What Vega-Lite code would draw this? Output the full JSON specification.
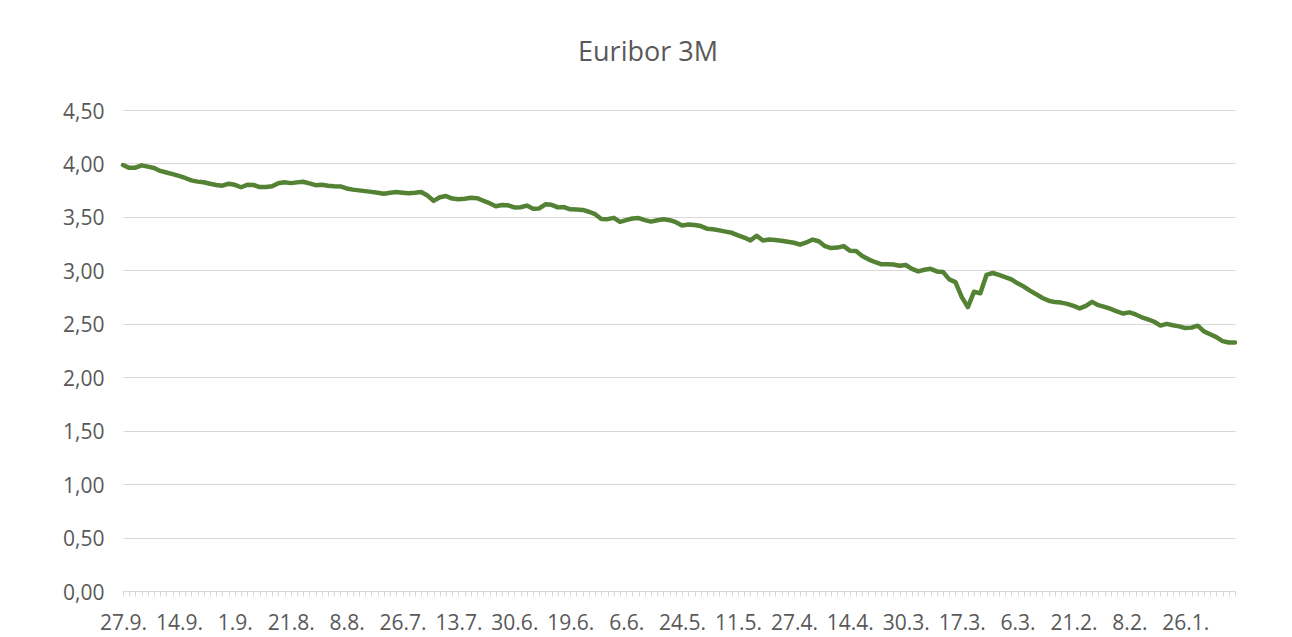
{
  "$schema": "https://vega.github.io/schema/vega-lite/v6.json",
  "width": 1112,
  "height": 481,
  "autosize": {"type": "none"},
  "padding": {"left": 123, "top": 110, "right": 57, "bottom": 46},
  "background": "white",
  "title": {"text": "Euribor 3M", "font": "Open Sans", "fontSize": 27, "fontWeight": "normal", "color": "#595959", "anchor": "middle", "dx": -31, "offset": 34},
  "data": {"values": [
    {"date": "27.9.", "value": 3.985}, {"date": "26.9.", "value": 3.959}, {"date": "25.9.", "value": 3.960}, {"date": "22.9.", "value": 3.982}, {"date": "21.9.", "value": 3.970}, {"date": "20.9.", "value": 3.957}, {"date": "19.9.", "value": 3.930}, {"date": "18.9.", "value": 3.915}, {"date": "15.9.", "value": 3.900}, {"date": "14.9.", "value": 3.883},
    {"date": "13.9.", "value": 3.864}, {"date": "12.9.", "value": 3.842}, {"date": "11.9.", "value": 3.830}, {"date": "8.9.", "value": 3.824}, {"date": "7.9.", "value": 3.810}, {"date": "6.9.", "value": 3.799}, {"date": "5.9.", "value": 3.792}, {"date": "4.9.", "value": 3.810}, {"date": "1.9.", "value": 3.800}, {"date": "31.8.", "value": 3.777},
    {"date": "30.8.", "value": 3.800}, {"date": "29.8.", "value": 3.799}, {"date": "28.8.", "value": 3.779}, {"date": "25.8.", "value": 3.779}, {"date": "24.8.", "value": 3.787}, {"date": "23.8.", "value": 3.815}, {"date": "22.8.", "value": 3.824}, {"date": "21.8.", "value": 3.816}, {"date": "18.8.", "value": 3.823}, {"date": "17.8.", "value": 3.829},
    {"date": "16.8.", "value": 3.813}, {"date": "15.8.", "value": 3.797}, {"date": "14.8.", "value": 3.800}, {"date": "11.8.", "value": 3.792}, {"date": "10.8.", "value": 3.786}, {"date": "9.8.", "value": 3.785}, {"date": "8.8.", "value": 3.766}, {"date": "7.8.", "value": 3.755}, {"date": "4.8.", "value": 3.748}, {"date": "3.8.", "value": 3.741},
    {"date": "2.8.", "value": 3.734}, {"date": "1.8.", "value": 3.726}, {"date": "31.7.", "value": 3.717}, {"date": "28.7.", "value": 3.726}, {"date": "27.7.", "value": 3.732}, {"date": "26.7.", "value": 3.726}, {"date": "25.7.", "value": 3.721}, {"date": "24.7.", "value": 3.726}, {"date": "21.7.", "value": 3.733}, {"date": "20.7.", "value": 3.700},
    {"date": "19.7.", "value": 3.650}, {"date": "18.7.", "value": 3.684}, {"date": "17.7.", "value": 3.695}, {"date": "14.7.", "value": 3.671}, {"date": "13.7.", "value": 3.665}, {"date": "12.7.", "value": 3.669}, {"date": "11.7.", "value": 3.679}, {"date": "10.7.", "value": 3.675}, {"date": "7.7.", "value": 3.651}, {"date": "6.7.", "value": 3.628},
    {"date": "5.7.", "value": 3.600}, {"date": "4.7.", "value": 3.611}, {"date": "3.7.", "value": 3.608}, {"date": "30.6.", "value": 3.588}, {"date": "29.6.", "value": 3.590}, {"date": "28.6.", "value": 3.606}, {"date": "27.6.", "value": 3.576}, {"date": "26.6.", "value": 3.579}, {"date": "23.6.", "value": 3.618}, {"date": "22.6.", "value": 3.613},
    {"date": "21.6.", "value": 3.589}, {"date": "20.6.", "value": 3.592}, {"date": "19.6.", "value": 3.571}, {"date": "16.6.", "value": 3.569}, {"date": "15.6.", "value": 3.565}, {"date": "14.6.", "value": 3.548}, {"date": "13.6.", "value": 3.525}, {"date": "12.6.", "value": 3.481}, {"date": "9.6.", "value": 3.479}, {"date": "8.6.", "value": 3.491},
    {"date": "7.6.", "value": 3.454}, {"date": "6.6.", "value": 3.470}, {"date": "5.6.", "value": 3.485}, {"date": "2.6.", "value": 3.489}, {"date": "1.6.", "value": 3.470}, {"date": "31.5.", "value": 3.456}, {"date": "30.5.", "value": 3.469}, {"date": "29.5.", "value": 3.478}, {"date": "26.5.", "value": 3.469}, {"date": "25.5.", "value": 3.450},
    {"date": "24.5.", "value": 3.420}, {"date": "23.5.", "value": 3.428}, {"date": "22.5.", "value": 3.424}, {"date": "19.5.", "value": 3.414}, {"date": "18.5.", "value": 3.390}, {"date": "17.5.", "value": 3.385}, {"date": "16.5.", "value": 3.374}, {"date": "15.5.", "value": 3.362}, {"date": "12.5.", "value": 3.351}, {"date": "11.5.", "value": 3.327},
    {"date": "10.5.", "value": 3.307}, {"date": "9.5.", "value": 3.280}, {"date": "8.5.", "value": 3.323}, {"date": "5.5.", "value": 3.279}, {"date": "4.5.", "value": 3.288}, {"date": "3.5.", "value": 3.283}, {"date": "2.5.", "value": 3.276}, {"date": "28.4.", "value": 3.268}, {"date": "27.4.", "value": 3.258}, {"date": "26.4.", "value": 3.240},
    {"date": "25.4.", "value": 3.261}, {"date": "24.4.", "value": 3.288}, {"date": "21.4.", "value": 3.272}, {"date": "20.4.", "value": 3.226}, {"date": "19.4.", "value": 3.208}, {"date": "18.4.", "value": 3.213}, {"date": "17.4.", "value": 3.227}, {"date": "14.4.", "value": 3.184}, {"date": "13.4.", "value": 3.180}, {"date": "12.4.", "value": 3.134},
    {"date": "11.4.", "value": 3.103}, {"date": "6.4.", "value": 3.078}, {"date": "5.4.", "value": 3.058}, {"date": "4.4.", "value": 3.056}, {"date": "3.4.", "value": 3.054}, {"date": "31.3.", "value": 3.043}, {"date": "30.3.", "value": 3.050}, {"date": "29.3.", "value": 3.014}, {"date": "28.3.", "value": 2.990}, {"date": "27.3.", "value": 3.005},
    {"date": "24.3.", "value": 3.014}, {"date": "23.3.", "value": 2.990}, {"date": "22.3.", "value": 2.985}, {"date": "21.3.", "value": 2.915}, {"date": "20.3.", "value": 2.890}, {"date": "17.3.", "value": 2.752}, {"date": "16.3.", "value": 2.656}, {"date": "15.3.", "value": 2.800}, {"date": "14.3.", "value": 2.785}, {"date": "13.3.", "value": 2.957},
    {"date": "10.3.", "value": 2.975}, {"date": "9.3.", "value": 2.957}, {"date": "8.3.", "value": 2.936}, {"date": "7.3.", "value": 2.915}, {"date": "6.3.", "value": 2.878}, {"date": "3.3.", "value": 2.848}, {"date": "2.3.", "value": 2.810}, {"date": "1.3.", "value": 2.777}, {"date": "28.2.", "value": 2.741}, {"date": "27.2.", "value": 2.716},
    {"date": "24.2.", "value": 2.703}, {"date": "23.2.", "value": 2.698}, {"date": "22.2.", "value": 2.686}, {"date": "21.2.", "value": 2.667}, {"date": "20.2.", "value": 2.644}, {"date": "17.2.", "value": 2.667}, {"date": "16.2.", "value": 2.705}, {"date": "15.2.", "value": 2.674}, {"date": "14.2.", "value": 2.658}, {"date": "13.2.", "value": 2.639},
    {"date": "10.2.", "value": 2.615}, {"date": "9.2.", "value": 2.596}, {"date": "8.2.", "value": 2.607}, {"date": "7.2.", "value": 2.587}, {"date": "6.2.", "value": 2.561}, {"date": "3.2.", "value": 2.541}, {"date": "2.2.", "value": 2.519}, {"date": "1.2.", "value": 2.483}, {"date": "31.1.", "value": 2.499}, {"date": "30.1.", "value": 2.486},
    {"date": "27.1.", "value": 2.476}, {"date": "26.1.", "value": 2.460}, {"date": "25.1.", "value": 2.464}, {"date": "24.1.", "value": 2.482}, {"date": "23.1.", "value": 2.429}, {"date": "20.1.", "value": 2.402}, {"date": "19.1.", "value": 2.375}, {"date": "18.1.", "value": 2.338}, {"date": "17.1.", "value": 2.325}, {"date": "16.1.", "value": 2.325}
  ]},
  "mark": {"type": "line", "color": "#548235", "strokeWidth": 4.5, "strokeJoin": "round", "strokeCap": "round"},
  "encoding": {
    "x": {
      "field": "date", "type": "ordinal", "sort": null,
      "scale": {"type": "point", "padding": 0},
      "axis": {
        "title": null, "labelAngle": 0, "grid": false,
        "labelFont": "Open Sans", "labelFontSize": 21, "labelColor": "#595959",
        "domainColor": "#d9d9d9", "domainWidth": 1,
        "tickColor": "#d9d9d9", "tickSize": 5, "tickWidth": 1,
        "labelPadding": 16, "labelOverlap": false,
        "labelExpr": "indexof(['27.9.','14.9.','1.9.','21.8.','8.8.','26.7.','13.7.','30.6.','19.6.','6.6.','24.5.','11.5.','27.4.','14.4.','30.3.','17.3.','6.3.','21.2.','8.2.','26.1.'], datum.label) >= 0 ? datum.label : ''"
      }
    },
    "y": {
      "field": "value", "type": "quantitative",
      "scale": {"domain": [0, 4.5], "nice": false, "zero": true},
      "axis": {
        "title": null, "values": [0, 0.5, 1, 1.5, 2, 2.5, 3, 3.5, 4, 4.5],
        "labelExpr": "replace(format(datum.value, '.2f'), '.', ',')",
        "domain": false, "ticks": false, "labelPadding": 19, "labelOffset": 2,
        "labelFont": "Open Sans", "labelFontSize": 21, "labelColor": "#595959",
        "grid": true, "gridColor": "#d9d9d9", "gridWidth": 1
      }
    }
  },
  "config": {"view": {"stroke": null}}
}
